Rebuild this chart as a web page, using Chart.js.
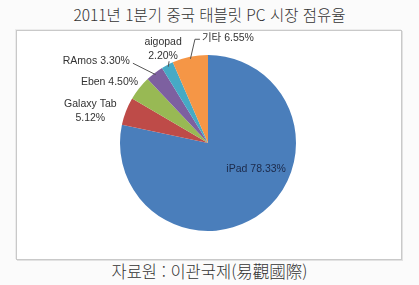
<!DOCTYPE html>
<html lang="ko">
<head>
<meta charset="UTF-8">
<title>2011년 1분기 중국 태블릿 PC 시장 점유율</title>
<style>
    body {
        margin: 0;
        width: 419px;
        height: 285px;
        background: #fbfbfb;
        position: relative;
        overflow: hidden;
        font-family: "Noto Sans CJK KR", sans-serif;
        color: #333;
    }
    .title {
        position: absolute;
        left: 0; top: 3px;
        width: 419px;
        text-align: center;
        font-size: 15.5px;
        font-weight: 300;
        line-height: 22px;
    }
    .box {
        position: absolute;
        left: 16px; top: 30px;
        width: 384px; height: 228px;
        background: #fff;
        border: 1px solid #c9c9c9;
        box-shadow: 1px 1px 0 #e2e2e2, -1px -1px 0 #ececec;
    }
    .source {
        position: absolute;
        left: 0; top: 260px;
        width: 419px;
        text-align: center;
        font-size: 16.5px;
        font-weight: 300;
        line-height: 22px;
    }
</style>
</head>
<body>
<div class="title">2011년 1분기 중국 태블릿 PC 시장 점유율</div>
<div class="box">
    <canvas id="pie" width="384" height="228"></canvas>
</div>
<div class="source">자료원 : 이관국제(易觀國際)</div>

<script src="https://cdn.jsdelivr.net/npm/chart.js"></script>
<script>
    // 데이터
    const brands = ['iPad', 'Galaxy Tab', 'Eben', 'RAmos', 'aigopad', '기타'];
    const shares = [78.33, 5.12, 4.50, 3.30, 2.20, 6.55];
    const colors = ['#4a7ebb', '#be4b48', '#98b954', '#7d60a0', '#46aac5', '#f59646'];

    // 라벨 배치: 두 줄 여부, 바깥 거리에서의 보정(px), 지시선 여부
    const twoLine = [false, true, false, false, true, false];
    const nudge = [[0, 0], [-17, 7], [-14, 6], [-46, 4], [5, 2], [42, 1]];
    const leader = [false, false, false, true, true, true];

    const labelPlugin = {
        id: 'sliceLabels',
        afterDatasetsDraw(chart) {
            const c = chart.ctx;
            const arcs = chart.getDatasetMeta(0).data;
            c.save();
            c.font = '10.5px "Liberation Sans", "Noto Sans CJK KR", sans-serif';
            c.textAlign = 'center';
            c.textBaseline = 'middle';
            arcs.forEach((arc, i) => {
                const p = arc.getProps(['x', 'y', 'startAngle', 'endAngle', 'outerRadius'], true);
                const mid = (p.startAngle + p.endAngle) / 2;
                const dx = Math.cos(mid), dy = Math.sin(mid);
                const txt = brands[i] + (twoLine[i] ? '\n' : ' ') + shares[i].toFixed(2) + '%';
                if (i === 0) {
                    // 안쪽 라벨
                    const lx = p.x + p.outerRadius * 0.62 * Math.cos(mid - 0.4);
                    const ly = p.y + p.outerRadius * 0.62 * Math.sin(mid - 0.4);
                    c.fillStyle = '#1c2a4a';
                    c.fillText(txt, lx, ly);
                    return;
                }
                const r = p.outerRadius + 20;
                const lx = p.x + r * dx + nudge[i][0];
                const ly = p.y + r * dy + nudge[i][1];
                c.fillStyle = '#333';
                const lines = txt.split('\n');
                lines.forEach((ln, k) => {
                    c.fillText(ln, lx, ly + (k - (lines.length - 1) / 2) * 14);
                });
                if (leader[i]) {
                    const ex = p.x + (p.outerRadius - 2) * dx;
                    const ey = p.y + (p.outerRadius - 2) * dy;
                    const w = c.measureText(lines[lines.length - 1]).width;
                    c.strokeStyle = '#555';
                    c.lineWidth = 1;
                    c.beginPath();
                    if (lx < ex - 20) {
                        // 라벨 오른쪽 끝에서
                        c.moveTo(lx + w / 2 + 3, ly + 2);
                        c.lineTo(ex, ey);
                    } else if (lx > ex + 10) {
                        // 라벨 왼쪽에서 꺾어서
                        c.moveTo(lx - w / 2 - 2, ly + 1);
                        c.lineTo(lx - w / 2 - 7, ly + 1);
                        c.lineTo(ex, ey);
                    } else {
                        c.moveTo(lx + 6, ly + 12);
                        c.lineTo(ex, ey);
                    }
                    c.stroke();
                }
            });
            c.restore();
        }
    };

    new Chart(document.getElementById('pie'), {
        type: 'pie',
        data: {
            labels: brands,
            datasets: [{
                data: shares,
                backgroundColor: colors,
                borderWidth: 0
            }]
        },
        options: {
            responsive: false,
            animation: false,
            layout: {
                padding: { top: 24, bottom: 28, left: 103, right: 105 }
            },
            plugins: {
                legend: { display: false },
                tooltip: { enabled: false }
            }
        },
        plugins: [labelPlugin]
    });
</script>
</body>
</html>
